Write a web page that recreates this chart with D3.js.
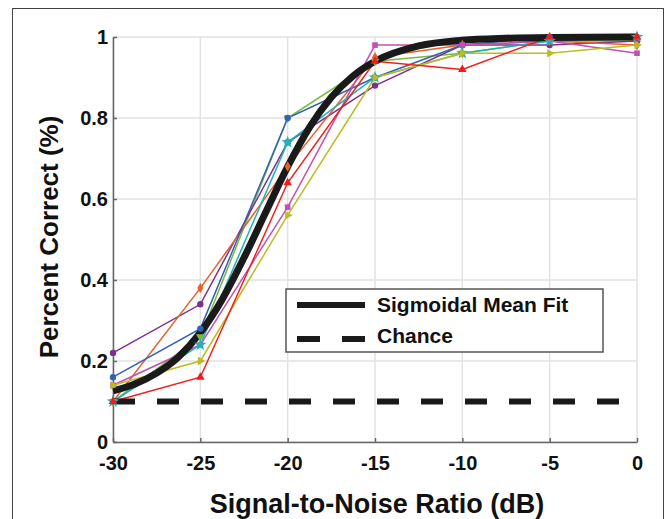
<!DOCTYPE html>
<html>
<head>
<meta charset="utf-8">
<script src="https://cdn.jsdelivr.net/npm/d3@7"></script>
<style>
  body { margin: 0; background: #fff; }
  text { font-family: "Liberation Sans", Arial, sans-serif; font-weight: bold; fill: #111; }
</style>
</head>
<body>
<svg width="668" height="519"></svg>
<script>
// SNR levels (dB)
var snr = [-30, -25, -20, -15, -10, -5, 0];

// per-subject percent correct
var blue   = [0.16, 0.28, 0.80, 0.90, 0.98, 1.00, 1.00];
var orange = [0.10, 0.38, 0.68, 0.95, 0.98, 0.99, 0.98];
var purple = [0.22, 0.34, 0.74, 0.88, 0.98, 0.98, 0.99];
var green  = [0.10, 0.26, 0.80, 0.94, 0.96, 0.99, 0.99];
var cyan   = [0.10, 0.24, 0.74, 0.90, 0.96, 0.99, 1.00];
var pink   = [0.14, 0.24, 0.58, 0.98, 0.98, 0.99, 0.96];
var yellow = [0.14, 0.20, 0.56, 0.90, 0.96, 0.96, 0.98];
var red    = [0.10, 0.16, 0.64, 0.94, 0.92, 1.00, 1.00];

// sigmoidal mean fit
var fitX = [-30, -28.75, -27.5, -26.25, -25, -23.75, -22.5, -21.25, -20, -18.75, -17.5, -16.25, -15, -12.5, -10, -7.5, -5, 0];
var fitY = [0.126, 0.143, 0.170, 0.210, 0.270, 0.352, 0.455, 0.568, 0.680, 0.777, 0.851, 0.904, 0.940, 0.978, 0.992, 0.997, 0.999, 1.0];

var chanceX = [-30, 0];
var chanceY = [0.1, 0.1];

var xTicks = [-30, -25, -20, -15, -10, -5, 0];
var yTicks = [0, 0.2, 0.4, 0.6, 0.8, 1];

var legendLabels = ["Sigmoidal Mean Fit", "Chance"];

var series = [
  {vals: green,  color: "#78b943", marker: "triangle-down"},
  {vals: purple, color: "#7e2f8e", marker: "circle"},
  {vals: orange, color: "#e8602a", marker: "diamond"},
  {vals: blue,   color: "#3461b0", marker: "circle"},
  {vals: pink,   color: "#c052b3", marker: "square"},
  {vals: cyan,   color: "#1fb3b8", marker: "star"},
  {vals: yellow, color: "#bcbc22", marker: "triangle-right"},
  {vals: red,    color: "#f21c1c", marker: "triangle"}
];

var svg = d3.select("svg");
var pLeft = 113, pRight = 637, pTop = 37, pBottom = 442;

var x = d3.scaleLinear().domain([-30, 0]).range([pLeft, pRight]);
var y = d3.scaleLinear().domain([0, 1]).range([pBottom, pTop]);

// outer frame
svg.append("rect")
  .attr("x", 12.5).attr("y", 8.5)
  .attr("width", 651).attr("height", 540)
  .attr("fill", "none").attr("stroke", "#444").attr("stroke-width", 1);

// grid
svg.append("g").selectAll("line").data(xTicks).enter().append("line")
  .attr("x1", function(d) { return x(d); }).attr("x2", function(d) { return x(d); })
  .attr("y1", pTop).attr("y2", pBottom)
  .attr("stroke", "#e2e2e2").attr("stroke-width", 1.5);
svg.append("g").selectAll("line").data(yTicks).enter().append("line")
  .attr("x1", pLeft).attr("x2", pRight)
  .attr("y1", function(d) { return y(d); }).attr("y2", function(d) { return y(d); })
  .attr("stroke", "#e2e2e2").attr("stroke-width", 1.5);

// axes
var xAxis = d3.axisBottom(x).tickValues(xTicks).tickFormat(function(d) { return String(d); })
  .tickSizeInner(-4).tickSizeOuter(0).tickPadding(14);
var yAxis = d3.axisLeft(y).tickValues(yTicks).tickFormat(function(d) { return String(d); })
  .tickSizeInner(-4).tickSizeOuter(0).tickPadding(5);

var gx = svg.append("g").attr("transform", "translate(0," + pBottom + ")").call(xAxis);
var gy = svg.append("g").attr("transform", "translate(" + pLeft + ",0)").call(yAxis);
[gx, gy].forEach(function(g) {
  g.select(".domain").attr("stroke", "#666").attr("stroke-width", 1.5);
  g.selectAll(".tick line").attr("stroke", "#666").attr("stroke-width", 1.5);
  g.selectAll(".tick text").attr("font-size", 20).attr("fill", "#111")
    .attr("font-family", "Liberation Sans, Arial, sans-serif").attr("font-weight", "bold");
});

// subject lines
var line = d3.line()
  .x(function(d, i) { return x(snr[i]); })
  .y(function(d) { return y(d); });

series.forEach(function(s) {
  svg.append("path")
    .attr("d", line(s.vals))
    .attr("fill", "none")
    .attr("stroke", s.color)
    .attr("stroke-width", 1.5);
});

// sigmoid fit
var fitLine = d3.line()
  .x(function(d, i) { return x(fitX[i]); })
  .y(function(d) { return y(d); })
  .curve(d3.curveMonotoneX);
svg.append("path")
  .attr("d", fitLine(fitY))
  .attr("fill", "none").attr("stroke", "#1a1a1a").attr("stroke-width", 7);

// chance
var chanceLine = d3.line()
  .x(function(d, i) { return x(chanceX[i]); })
  .y(function(d) { return y(d); });
svg.append("path")
  .attr("d", chanceLine(chanceY))
  .attr("fill", "none").attr("stroke", "#1a1a1a").attr("stroke-width", 6)
  .attr("stroke-dasharray", "22,22");

// markers
var symbols = {
  "circle": d3.symbolCircle, "diamond": d3.symbolDiamond, "square": d3.symbolSquare,
  "star": d3.symbolStar, "triangle": d3.symbolTriangle, "triangle-down": d3.symbolTriangle,
  "triangle-right": d3.symbolTriangle
};
series.forEach(function(s) {
  var sym = d3.symbol().type(symbols[s.marker]).size(s.marker === "star" ? 50 : 32);
  var rot = s.marker === "triangle-down" ? 180 : (s.marker === "triangle-right" ? 90 : 0);
  svg.append("g").selectAll("path").data(s.vals).enter().append("path")
    .attr("d", sym)
    .attr("transform", function(d, i) {
      return "translate(" + x(snr[i]) + "," + y(d) + ") rotate(" + rot + ")";
    })
    .attr("fill", s.color);
});

// legend
var lg = svg.append("g");
lg.append("rect")
  .attr("x", 286).attr("y", 289).attr("width", 317).attr("height", 63)
  .attr("fill", "#fff").attr("stroke", "#555").attr("stroke-width", 1.5);
lg.append("line").attr("x1", 297).attr("x2", 365).attr("y1", 305).attr("y2", 305)
  .attr("stroke", "#1a1a1a").attr("stroke-width", 6);
lg.append("line").attr("x1", 297).attr("x2", 365).attr("y1", 339).attr("y2", 339)
  .attr("stroke", "#1a1a1a").attr("stroke-width", 6).attr("stroke-dasharray", "23,22");
lg.selectAll("text").data(legendLabels).enter().append("text")
  .attr("x", 377)
  .attr("y", function(d, i) { return 312 + i * 31; })
  .attr("font-size", 21)
  .text(function(d) { return d; });

// axis titles
svg.append("text")
  .attr("x", 377).attr("y", 513)
  .attr("text-anchor", "middle").attr("font-size", 27)
  .text("Signal-to-Noise Ratio (dB)");
svg.append("text")
  .attr("transform", "translate(58,237) rotate(-90)")
  .attr("text-anchor", "middle").attr("font-size", 26)
  .text("Percent Correct (%)");
</script>
</body>
</html>
